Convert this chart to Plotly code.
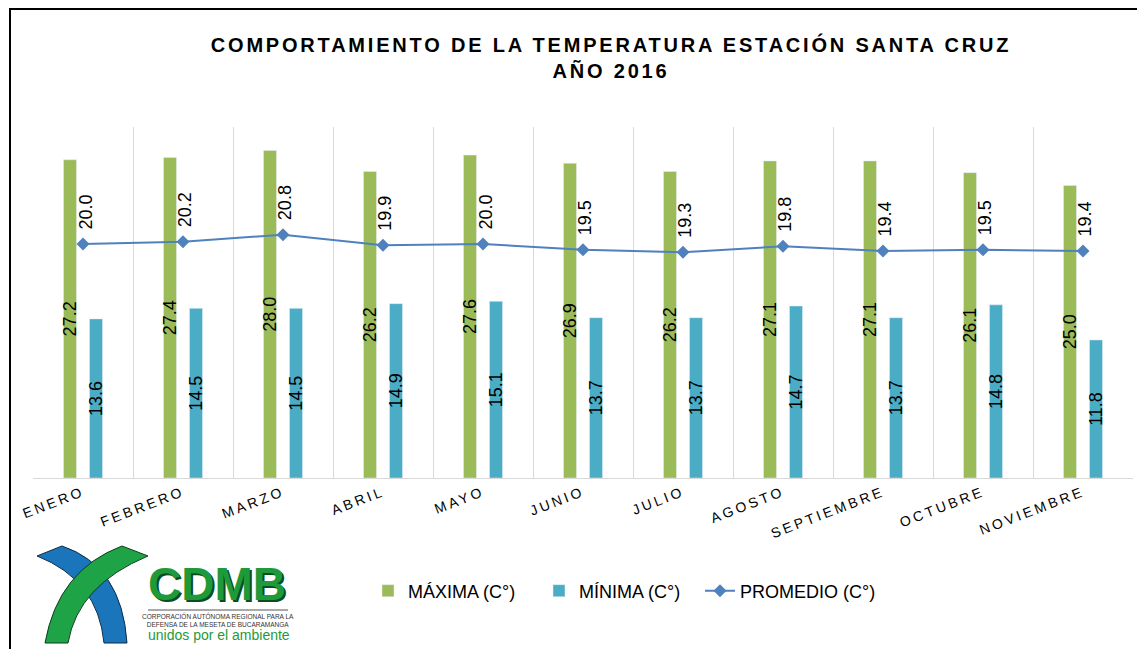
import plotly.graph_objects as go

# data
meses = ["ENERO", "FEBRERO", "MARZO", "ABRIL", "MAYO", "JUNIO", "JULIO",
         "AGOSTO", "SEPTIEMBRE", "OCTUBRE", "NOVIEMBRE"]
maxima = [27.2, 27.4, 28.0, 26.2, 27.6, 26.9, 26.2, 27.1, 27.1, 26.1, 25.0]
minima = [13.6, 14.5, 14.5, 14.9, 15.1, 13.7, 13.7, 14.7, 13.7, 14.8, 11.8]
promedio = [20.0, 20.2, 20.8, 19.9, 20.0, 19.5, 19.3, 19.8, 19.4, 19.5, 19.4]

# the page body keeps its default 8px margin, so the figure is made
# 8px smaller and all layout numbers below are in window pixels
OFF = 8
W, H = 1145, 649
L, R, T, B = 33, 1133, 127, 478   # plot area in window pixels

VERDE = "#9BBB59"
AZUL = "#4BACC6"
LINEA = "#4F81BD"
FONT = "Liberation Sans, Arial, sans-serif"


def px(x):
    return (x - L) / (R - L)


def py(y):
    return (B - y) / (B - T)


def spaced(txt, sp):
    return f'<span style="letter-spacing:{sp}px">{txt}</span>'


def path(points):
    # points in window pixels -> svg path in paper coords
    d = ""
    for cmd, pts in points:
        d += cmd + " ".join(f"{px(a):.5f},{py(b):.5f}" for a, b in pts) + " "
    return d + "Z"


def legend_at(x_pix):
    return dict(orientation="h", xref="paper", x=px(x_pix), xanchor="left",
                y=py(591), yanchor="middle", itemwidth=30,
                bgcolor="rgba(0,0,0,0)",
                font=dict(size=18, color="black", family=FONT))


fig = go.Figure()

fig.add_trace(go.Bar(
    x=meses, y=maxima, name="MÁXIMA (C°)", marker_color=VERDE,
    text=[f"{v:.1f}" for v in maxima], textposition="inside",
    insidetextanchor="middle", textangle=-90, constraintext="none",
    textfont=dict(size=18, color="black", family=FONT),
    legend="legend",
))
fig.add_trace(go.Bar(
    x=meses, y=minima, name="MÍNIMA (C°)", marker_color=AZUL,
    text=[f"{v:.1f}" for v in minima], textposition="inside",
    insidetextanchor="middle", textangle=-90, constraintext="none",
    textfont=dict(size=18, color="black", family=FONT),
    legend="legend2",
))
fig.add_trace(go.Scatter(
    x=meses, y=promedio, name="PROMEDIO (C°)", mode="lines+markers",
    line=dict(color=LINEA, width=2),
    marker=dict(symbol="diamond", size=10, color=LINEA),
    legend="legend3",
))

for m, v in zip(meses, promedio):
    fig.add_annotation(
        x=m, y=v, text=f"{v:.1f}", textangle=-90, showarrow=False,
        yanchor="bottom", xshift=2, yshift=12,
        font=dict(size=18, color="black", family=FONT),
    )

# outer frame and logo (approximation)
shapes = [
    dict(type="rect", xref="paper", yref="paper",
         x0=px(10), x1=px(1143), y0=py(9), y1=py(700),
         line=dict(color="black", width=2), fillcolor="rgba(0,0,0,0)"),
    dict(type="path", xref="paper", yref="paper", layer="above",
         path=path([("M", [(37, 556)]), ("Q", [(98, 580), (104, 643)]),
                    ("L", [(127, 643)]), ("Q", [(122, 566), (62, 546)])]),
         fillcolor="#1b75bb", line=dict(color="#0d2a45", width=1)),
    dict(type="path", xref="paper", yref="paper", layer="above",
         path=path([("M", [(148, 556)]), ("Q", [(78, 585), (68, 643)]),
                    ("L", [(45, 643)]), ("Q", [(58, 570), (122, 546)])]),
         fillcolor="#1fa347", line=dict(color="#0c3d1e", width=1)),
    dict(type="path", xref="paper", yref="paper", layer="above",
         path=path([("M", [(87, 556)]), ("L", [(96, 549), (104, 557), (95, 565)])]),
         fillcolor="#0b7a3b", line=dict(width=0)),
    dict(type="line", xref="paper", yref="paper",
         x0=px(148), x1=px(288), y0=py(610), y1=py(610),
         line=dict(color="#555555", width=1)),
]

fig.add_annotation(xref="paper", yref="paper", x=px(217), y=py(584),
                   xanchor="center", yanchor="middle",
                   text="<b>CDMB</b>", showarrow=False,
                   font=dict(size=46, color="#1e9a3a", family=FONT,
                             shadow="2px 2px 0px #0b4d22"))
fig.add_annotation(xref="paper", yref="paper", x=px(218), y=py(620),
                   xanchor="center", yanchor="middle",
                   text="CORPORACIÓN AUTÓNOMA REGIONAL PARA LA<br>"
                        "DEFENSA DE LA MESETA DE BUCARAMANGA",
                   showarrow=False,
                   font=dict(size=6.5, color="#333333", family=FONT))
fig.add_annotation(xref="paper", yref="paper", x=px(219), y=py(635),
                   xanchor="center", yanchor="middle",
                   text="unidos por el ambiente", showarrow=False,
                   font=dict(size=14, color="#1e9a3a", family=FONT))

fig.update_layout(
    width=W - OFF, height=H - OFF,
    margin=dict(l=L - OFF, r=W - R, t=T - OFF, b=H - B, autoexpand=False),
    paper_bgcolor="white", plot_bgcolor="white",
    barmode="group", bargap=0.48, bargroupgap=0.5,
    font=dict(family=FONT, color="black"),
    title=dict(
        text=spaced("<b>COMPORTAMIENTO DE LA TEMPERATURA ESTACIÓN SANTA CRUZ</b>", 2.8)
        + "<br>" + spaced("<b>AÑO 2016</b>", 2.8),
        xref="container", x=(611 - OFF) / (W - OFF), xanchor="center",
        yref="container", y=1 - 44 / (H - OFF), yanchor="top",
        font=dict(size=20, color="black", family=FONT),
    ),
    showlegend=True,
    legend=legend_at(368),
    legend2=legend_at(539),
    legend3=legend_at(700),
    xaxis=dict(
        range=[-0.5, len(meses) - 0.5],
        tickmode="array", tickvals=meses,
        ticktext=[spaced(m, 3) for m in meses],
        tickangle=-21, tickfont=dict(size=14, color="black", family=FONT),
        tickson="boundaries", ticks="", showgrid=True, gridcolor="#d9d9d9",
        showline=True, linecolor="#d9d9d9", linewidth=1, automargin=False,
    ),
    yaxis=dict(range=[0, 30], visible=False, showgrid=False),
    shapes=shapes,
)

fig.write_html("out.html")
